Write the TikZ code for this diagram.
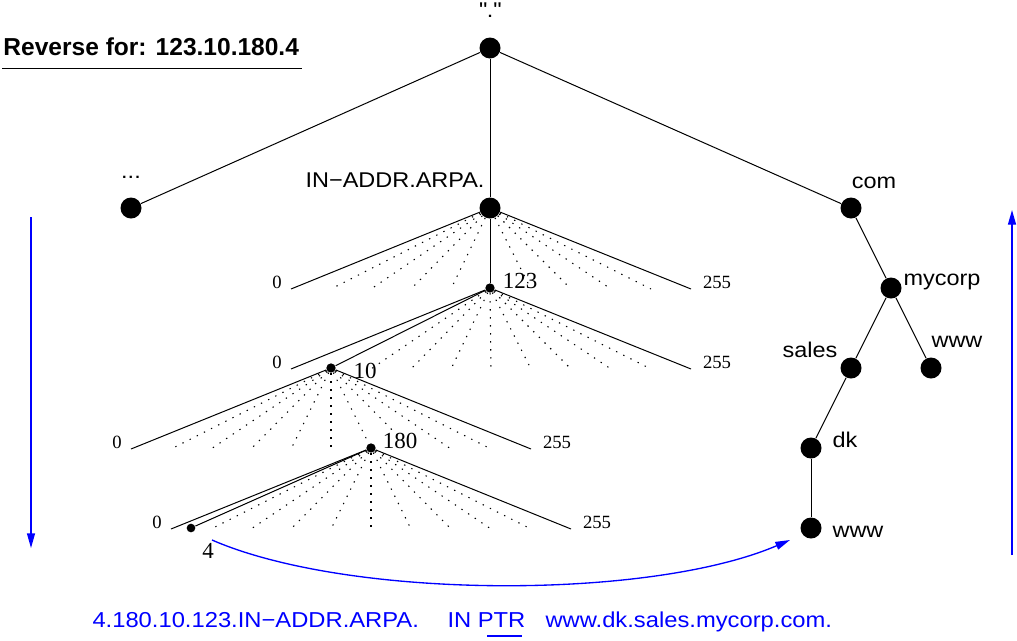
\documentclass[tikz,border=0pt]{standalone}
\usepackage{fontspec}
\setmainfont{Liberation Serif}
\setsansfont[FakeStretch=1.1]{Liberation Sans}
\newfontfamily\titlefont{Liberation Sans}
\usetikzlibrary{arrows.meta}

\begin{document}
\begin{tikzpicture}[x=0.75pt,y=-0.75pt,>={Triangle[length=11pt,width=6pt]}]
            \tikzstyle{bigdot} = [circle,fill=black,inner sep=0pt,minimum size=15.75pt];
            \tikzstyle{smalldot} = [circle,fill=black,inner sep=0pt,minimum size=7pt];
            \tikzstyle{lab} = [inner sep=0pt,anchor=base,font=\sffamily\fontsize{16}{18}\selectfont];
            \tikzstyle{num} = [inner sep=0pt,anchor=base,font=\rmfamily\fontsize{14}{16}\selectfont];
            \tikzstyle{bignum} = [inner sep=0pt,anchor=base,font=\rmfamily\fontsize{17.25}{20}\selectfont];
            \tikzstyle{fan} = [line width=0.8pt,dash pattern=on 1pt off 5pt];
            \tikzstyle{blu} = [blue,line width=1pt];
            \useasboundingbox (0,0) rectangle (1017,640);
            \tikzset{every path/.style={line width=0.75pt}}
            % title
            \node[inner sep=0pt,anchor=base west,font=\titlefont\bfseries\fontsize{18.4}{22}\selectfont] (title) at (3,55) {Reverse for: 123.10.180.4};
            \coordinate (tl) at (2,68);
            \coordinate (tr) at (302,68);
            \draw (tl) -- (tr);
            % tree
            \node[bigdot] (root) at (490,48) {};
            \node[bigdot] (etc) at (131,208) {};
            \node[bigdot] (inaddr) at (490,208) {};
            \node[bigdot] (com) at (851,208) {};
            \node[bigdot] (mycorp) at (891,288) {};
            \node[bigdot] (wwwa) at (931,368) {};
            \node[bigdot] (sales) at (851,368) {};
            \node[bigdot] (dk) at (811,448) {};
            \node[bigdot] (wwwb) at (811,528) {};
            \node[smalldot] (n123) at (490,288) {};
            \node[smalldot] (n10) at (331,368) {};
            \node[smalldot] (n180) at (371,448) {};
            \node[smalldot,minimum size=6.5pt] (n4) at (191,528) {};
            \draw (root) -- (etc);
            \draw (root) -- (inaddr);
            \draw (root) -- (com);
            \draw (com) -- (mycorp);
            \draw (mycorp) -- (sales);
            \draw (mycorp) -- (wwwa);
            \draw (sales) -- (dk);
            \draw (dk) -- (wwwb);
            \draw (inaddr) -- (n123);
            \draw (n123) -- (n10);
            \draw[fan] (n10) -- (n180);
            \draw (n180) -- (n4);
            % fans
            \foreach \k in {0,...,10} {
                \coordinate (a\k) at ({291+40*\k},289);
                \coordinate (b\k) at ({291+40*\k},369);
                \coordinate (c\k) at ({131+40*\k},449);
                \coordinate (d\k) at ({171+40*\k},529);
            }
            \draw (inaddr) -- (a0);
            \draw (inaddr) -- (a10);
            \foreach \k in {1,2,3,4,6,7,8,9} \draw[fan] (inaddr) -- (a\k);
            \draw (n123) -- (b0);
            \draw (n123) -- (b10);
            \foreach \k in {2,...,9} \draw[fan] (n123) -- (b\k);
            \draw (n10) -- (c0);
            \draw (n10) -- (c10);
            \foreach \k in {1,2,3,4,5,7,8,9} \draw[fan] (n10) -- (c\k);
            \draw (n180) -- (d0);
            \draw (n180) -- (d10);
            \foreach \k in {1,...,9} \draw[fan] (n180) -- (d\k);
            % numbers
            \node[num] (l0a) at (277,288) {0};
            \node[num] (l255a) at (717,288) {255};
            \node[num] (l0b) at (277,368) {0};
            \node[num] (l255b) at (717,368) {255};
            \node[num] (l0c) at (117,448) {0};
            \node[num] (l255c) at (557,448) {255};
            \node[num] (l0d) at (157,528) {0};
            \node[num] (l255d) at (597,528) {255};
            \node[bignum] (l123) at (520,288) {123};
            \node[bignum] (l10) at (365,378) {10};
            \node[bignum] (l180) at (400,448) {180};
            \node[bignum] (l4) at (208,558) {4};
            % names
            \node[lab] (lroot) at (490,17) {\textquotedbl.\textquotedbl};
            \node[lab] (letc) at (131,178) {...};
            \node[lab,anchor=base east] (linaddr) at (485,187) {IN−ADDR.ARPA.};
            \node[lab] (lcom) at (874,188) {com};
            \node[lab,anchor=base west] (lmycorp) at (903,285) {mycorp};
            \node[lab] (lwwwa) at (957,347) {www};
            \node[lab] (lsales) at (810,357) {sales};
            \node[lab] (ldk) at (845,447) {dk};
            \node[lab] (lwwwb) at (858,537) {www};
            % blue
            \coordinate (down0) at (31,217);
            \coordinate (down1) at (31,548);
            \coordinate (up0) at (1012,555);
            \coordinate (up1) at (1012,210);
            \coordinate (cs) at (212,540);
            \coordinate (ce) at (790,540);
            \draw[blu,->] (down0) -- (down1);
            \draw[blu,->] (up0) -- (up1);
            \draw[blu,->] (cs) .. controls (350,600) and (650,600) .. (ce);
            \tikzstyle{bluetext} = [inner sep=0pt,anchor=base west,text=blue,font=\sffamily\fontsize{16.2}{18}\selectfont];
            \node[bluetext] (rr1) at (92,627) {4.180.10.123.IN−ADDR.ARPA.};
            \node[bluetext] (rr2) at (447,627) {IN PTR};
            \node[bluetext] (rr3) at (545,627) {www.dk.sales.mycorp.com.};
            \coordinate (u0) at (487,636);
            \coordinate (u1) at (522,636);
            \draw[blu,line width=1.1pt] (u0) -- (u1);
        \end{tikzpicture}
\end{document}
